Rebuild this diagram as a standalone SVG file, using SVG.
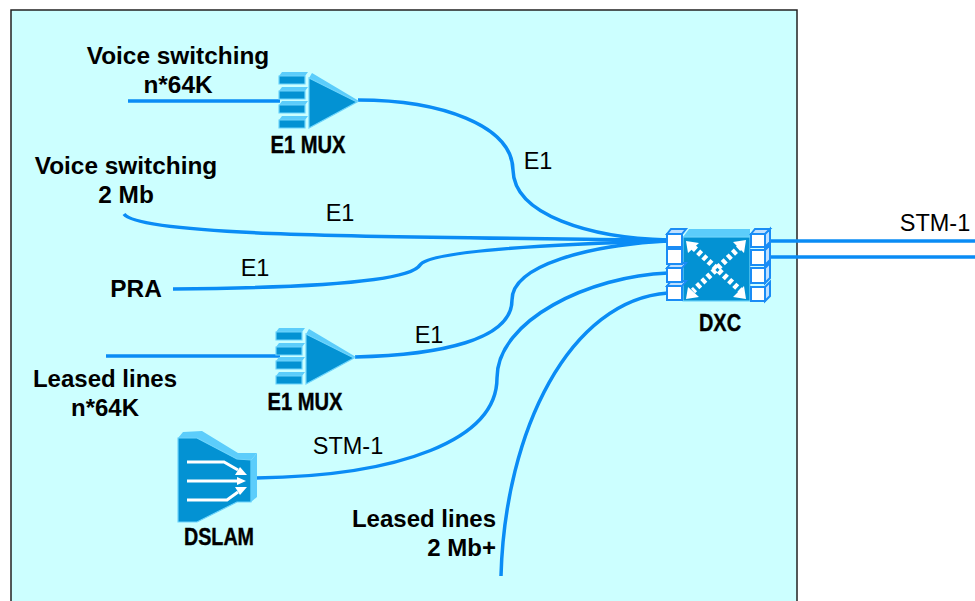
<svg xmlns="http://www.w3.org/2000/svg" width="975" height="601" viewBox="0 0 975 601">
<style>
text{font-family:"Liberation Sans",Arial,sans-serif;fill:#000}
.b{font-weight:700;font-size:24.4px}
.b2{font-weight:700;font-size:24px}
.n{font-size:23.5px}
.lab{font-weight:700;font-size:24px;stroke:#000;stroke-width:.4}
.c{fill:none;stroke:#0a8cf5;stroke-width:3.5}
.l{fill:#5ccdfb}
.e{fill:#0392d3;stroke:#6ed4fb;stroke-width:1.2}
.w{fill:#fff;stroke:#1a8cf5;stroke-width:2}
.s{fill:#bfe0ff;stroke:#1a8cf5;stroke-width:2}
.a{fill:none;stroke:#fff;stroke-width:3}
.dot{fill:none;stroke:#fff;stroke-width:6;stroke-dasharray:4 3}
.ah{fill:#fff}
</style>
<rect id="frame" x="11" y="10" width="786" height="600" fill="#ccffff" stroke="#222" stroke-width="1.5"/>
<g id="connectors">
<path class="c" d="M128 101H280"/>
<path class="c" d="M358 100C440 100 512 125 513 170C514 215 590 238 668 240"/>
<path class="c" d="M124 214C140 237 400 237 668 240"/>
<path class="c" d="M173 289C300 288 410 282 420 265C430 250 560 244 668 241"/>
<path class="c" d="M106 356H280"/>
<path class="c" d="M355 357C440 355 512 340 512 300C512 265 590 245 668 241"/>
<path class="c" d="M256 478C400 476 497 440 497 378C497 320 590 276 668 273"/>
<path class="c" d="M501 576C505 430 570 300 668 293"/>
<path class="c" d="M765 241H975"/>
<path class="c" d="M765 257H975"/>
</g>
<g id="mux1">
<path class="l" d="M279 76l3-4h26l-3 4zM279 91l3-4h26l-3 4zM279 105l3-4h26l-3 4zM279 120l3-4h26l-3 4z"/>
<path class="e" d="M279 76h26v8h-26zM279 91h26v8h-26zM279 105h26v8h-26zM279 120h26v8h-26z"/>
<path class="l" d="M309 78l3-5 47 28-2 1z"/>
<path class="e" d="M309 78L357 102L309 128z"/>
<text class="lab" x="308" y="153" text-anchor="middle" textLength="75" lengthAdjust="spacingAndGlyphs">E1 MUX</text>
</g>
<g id="mux2">
<path class="l" d="M276 332l3-4h26l-3 4zM276 347l3-4h26l-3 4zM276 361l3-4h26l-3 4zM276 376l3-4h26l-3 4z"/>
<path class="e" d="M276 332h26v8h-26zM276 347h26v8h-26zM276 361h26v8h-26zM276 376h26v8h-26z"/>
<path class="l" d="M306 334l3-5 47 28-2 1z"/>
<path class="e" d="M306 334L354 358L306 384z"/>
<text class="lab" x="305" y="410" text-anchor="middle" textLength="75" lengthAdjust="spacingAndGlyphs">E1 MUX</text>
</g>
<g id="dslam">
<path class="l" d="M178 438l5-6 19-1 36 22 19 0-6 7-14-1-40-21z"/>
<path class="e" d="M178 438h19l40 21 14 1v42h-14l-40 20h-19z"/>
<path class="l" d="M251 460l6-7v44l-6 5z"/>
<path class="a" d="M187 462h37l14 8M187 481h50M187 500h40l11-8"/>
<path class="ah" d="M247 475l-12 0 5-8zM246 481l-9-4v8zM247 487l-12 0 5 8z"/>
<text class="lab" x="219" y="545" text-anchor="middle" textLength="70" lengthAdjust="spacingAndGlyphs">DSLAM</text>
</g>
<g id="dxc">
<path class="l" d="M683 237l6-8h61v8z"/>
<rect class="e" x="683" y="237" width="67" height="64"/>
<path class="s" d="M667 234l4-5h15l-4 5zM667 268l4-5h15l-4 5zM667 286l4-5h15l-4 5z"/>
<path class="w" d="M667 234h15v13h-15zM667 249h15v15h-15zM667 268h15v14h-15zM667 286h15v14h-15z"/>
<path class="s" d="M751 234l4-5h15l-5 5zM765 234l5-5v13l-5 5zM765 250l5-5v15l-5 5zM765 268l5-5v15l-5 5zM765 287l5-5v14l-5 5z"/>
<path class="w" d="M751 234h14v13h-14zM751 250h14v15h-14zM751 268h14v15h-14zM751 287h14v14h-14z"/>
<path class="dot" d="M693 247L741 291M741 246L693 291"/>
<path class="ah" d="M686 241l13 2-11 10zM746 240l-13 2 11 11zM686 299l13-2-11-10zM746 299l-13-2 11-11z"/>
<text class="lab" x="720" y="331" text-anchor="middle" textLength="42" lengthAdjust="spacingAndGlyphs">DXC</text>
</g>
<g id="labels">
<text class="b" x="178" y="64" text-anchor="middle">Voice switching</text>
<text class="b" x="178" y="93" text-anchor="middle">n*64K</text>
<text class="b" x="126" y="174" text-anchor="middle">Voice switching</text>
<text class="b" x="126" y="203" text-anchor="middle">2 Mb</text>
<text class="b" x="136" y="297" text-anchor="middle">PRA</text>
<text class="b2" x="105" y="387" text-anchor="middle">Leased lines</text>
<text class="b2" x="105" y="416" text-anchor="middle">n*64K</text>
<text class="b2" x="496" y="527" text-anchor="end">Leased lines</text>
<text class="b2" x="496" y="556" text-anchor="end">2 Mb+</text>
<text class="n" x="538" y="169" text-anchor="middle">E1</text>
<text class="n" x="340" y="221" text-anchor="middle">E1</text>
<text class="n" x="255" y="276" text-anchor="middle">E1</text>
<text class="n" x="429" y="343" text-anchor="middle">E1</text>
<text class="n" x="348" y="454" text-anchor="middle">STM-1</text>
<text class="n" x="935" y="231" text-anchor="middle">STM-1</text>
</g>
</svg>
